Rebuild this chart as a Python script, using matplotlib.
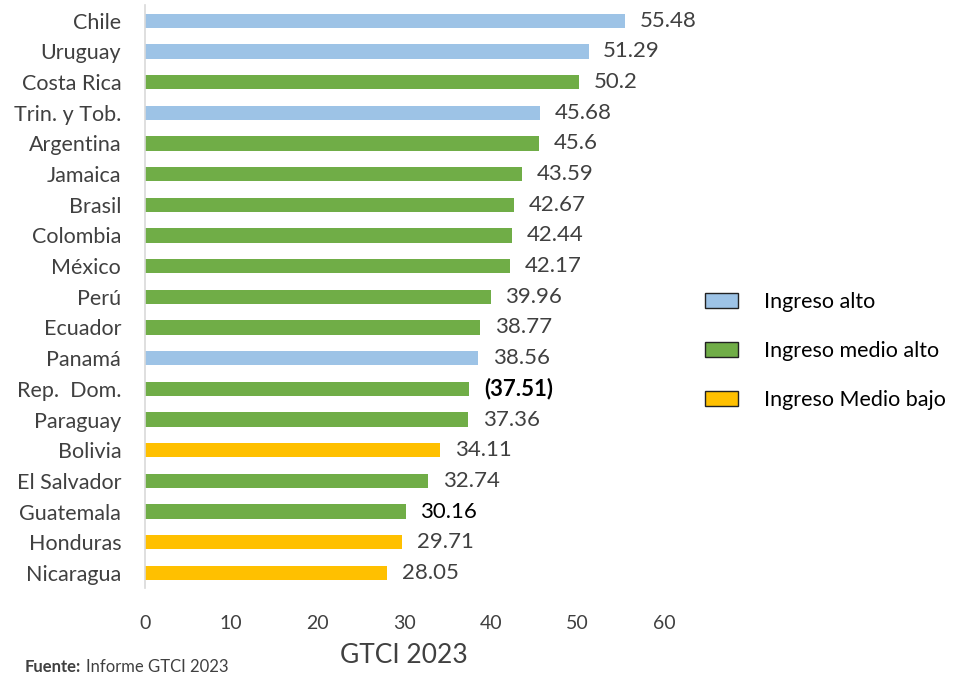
import matplotlib.pyplot as plt
from matplotlib.patches import Patch

# ---------------- datos ----------------
paises = ["Chile", "Uruguay", "Costa Rica", "Trin. y Tob.", "Argentina", "Jamaica",
          "Brasil", "Colombia", "México", "Perú", "Ecuador", "Panamá", "Rep.  Dom.",
          "Paraguay", "Bolivia", "El Salvador", "Guatemala", "Honduras", "Nicaragua"]
gtci = [55.48, 51.29, 50.2, 45.68, 45.6, 43.59, 42.67, 42.44, 42.17, 39.96,
        38.77, 38.56, 37.51, 37.36, 34.11, 32.74, 30.16, 29.71, 28.05]
etiquetas = ["55.48", "51.29", "50.2", "45.68", "45.6", "43.59", "42.67", "42.44", "42.17",
             "39.96", "38.77", "38.56", "(37.51)", "37.36", "34.11", "32.74", "30.16",
             "29.71", "28.05"]
grupo = ["alto", "alto", "medio", "alto", "medio", "medio", "medio", "medio", "medio",
         "medio", "medio", "alto", "medio", "medio", "bajo", "medio", "medio", "bajo", "bajo"]
grupos_nombre = {"alto": "Ingreso alto", "medio": "Ingreso medio alto", "bajo": "Ingreso Medio bajo"}
ticks_x = [0, 10, 20, 30, 40, 50, 60]

colores = {"alto": "#9DC3E6", "medio": "#70AD47", "bajo": "#FFC000"}
gris = "#404040"

plt.rcParams['font.family'] = ['Lato', 'DejaVu Sans']

fig = plt.figure(figsize=(9.65, 6.8), dpi=100)
ax = fig.add_axes([0.150, 0.135, 0.538, 0.857])

pos = list(range(len(paises)))
ax.barh(pos, gtci, height=0.46, color=[colores[g] for g in grupo])
ax.set_ylim(len(paises) - 0.5, -0.5)
ax.set_xlim(0, 60)

# etiquetas de valor al final de cada barra
for i, (v, t) in enumerate(zip(gtci, etiquetas)):
    if t.startswith("("):
        ax.text(v + 1.7, i, t, va='center', ha='left', fontsize=16, fontweight='bold', color='black')
    elif t == "30.16":
        ax.text(v + 1.7, i, t, va='center', ha='left', fontsize=16, color='black')
    else:
        ax.text(v + 1.7, i, t, va='center', ha='left', fontsize=16, color=gris)

ax.set_yticks(pos)
ax.set_yticklabels(paises, fontsize=15.5, color=gris)
ax.set_xticks(ticks_x)
ax.set_xticklabels([str(t) for t in ticks_x], fontsize=14, color=gris)
ax.tick_params(axis='both', length=0)
ax.tick_params(axis='x', pad=19)
ax.tick_params(axis='y', pad=17)
ax.set_xlabel("GTCI 2023", fontsize=19, color=gris, labelpad=8)

for s in ["top", "right", "bottom"]:
    ax.spines[s].set_visible(False)
ax.spines["left"].set_color("#D9D9D9")
ax.spines["left"].set_linewidth(1.2)

# leyenda por grupo de ingreso
handles = [Patch(facecolor=colores[k], edgecolor="#222222", linewidth=1, label=grupos_nombre[k])
           for k in ["alto", "medio", "bajo"]]
fig.legend(handles=handles, loc='center left', bbox_to_anchor=(0.7306, 0.484), frameon=False,
           fontsize=15.5, handlelength=1.55, handleheight=0.72, handletextpad=1.2,
           labelspacing=1.35, borderpad=0, borderaxespad=0, labelcolor='black')

fuente = fig.text(0.026, 0.012, "Fuente:", fontsize=12, fontweight='bold', color=gris)
ax.annotate("Informe GTCI 2023", xy=(1, 0), xycoords=fuente, xytext=(3, 0),
            textcoords='offset points', fontsize=12, color=gris, va='bottom', ha='left',
            annotation_clip=False)

fig.savefig("out.png", dpi=100)
